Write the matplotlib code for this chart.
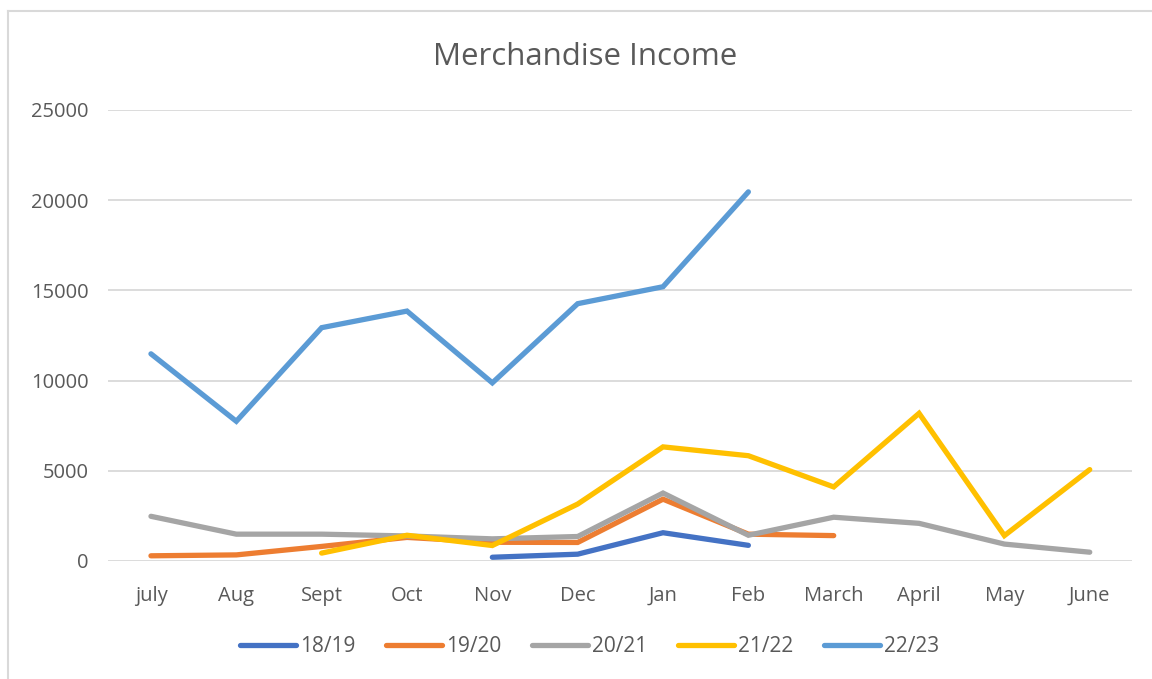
import matplotlib.pyplot as plt
from matplotlib.lines import Line2D

# months of the financial year
months = ['july', 'Aug', 'Sept', 'Oct', 'Nov', 'Dec', 'Jan', 'Feb', 'March', 'April', 'May', 'June']

# merchandise income per season (None = no data)
s1819 = [None, None, None, None, 200, 370, 1560, 860, None, None, None, None]
s1920 = [280, 330, 800, 1300, 1030, 1020, 3420, 1480, 1400, None, None, None]
s2021 = [2470, 1480, 1480, 1380, 1220, 1350, 3760, 1420, 2420, 2080, 930, 480]
s2122 = [None, None, 430, 1420, 850, 3150, 6320, 5830, 4100, 8180, 1400, 5060]
s2223 = [11480, 7740, 12930, 13850, 9870, 14260, 15200, 20460, None, None, None, None]

series = [('18/19', s1819, '#4472C4'),
          ('19/20', s1920, '#ED7D31'),
          ('20/21', s2021, '#A5A5A5'),
          ('21/22', s2122, '#FFC000'),
          ('22/23', s2223, '#5B9BD5')]

plt.rcParams['font.family'] = ['Open Sans', 'DejaVu Sans']
txt = '#595959'

fig = plt.figure(figsize=(11.52, 6.79), dpi=100)
ax = fig.add_axes([0.094, 0.174, 0.889, 0.664])

x = list(range(len(months)))
for name, vals, col in series:
    ax.plot(x, [float('nan') if v is None else v for v in vals], color=col,
            lw=3.8, label=name, solid_capstyle='round', solid_joinstyle='miter')

ax.set_xlim(-0.5, 11.5)
ax.set_ylim(0, 25000)
ax.set_yticks(range(0, 25001, 5000))
ax.set_xticks(x)
ax.set_xticklabels(months)
ax.grid(axis='y', color='#d9d9d9', lw=1.3)
ax.set_axisbelow(True)
for s in ax.spines.values():
    s.set_visible(False)
ax.tick_params(length=0, labelsize=14.5, labelcolor=txt)
ax.tick_params(axis='x', pad=18)
ax.tick_params(axis='y', pad=14)

fig.text(0.508, 0.916, 'Merchandise Income', ha='center', va='center',
         fontsize=22.5, color=txt)

ax.legend(loc='center', bbox_to_anchor=(0.47, -0.19), ncol=5, frameon=False,
          fontsize=15, labelcolor=txt, handlelength=2.7, handletextpad=0.2,
          columnspacing=1.45)

# chart frame (top and left edges)
fig.add_artist(Line2D([8/1152, 1.0], [1 - 11/679, 1 - 11/679], color='#d9d9d9', lw=1.5))
fig.add_artist(Line2D([8/1152, 8/1152], [0, 1 - 11/679], color='#d9d9d9', lw=1.5))

fig.savefig('out.png', dpi=100)
